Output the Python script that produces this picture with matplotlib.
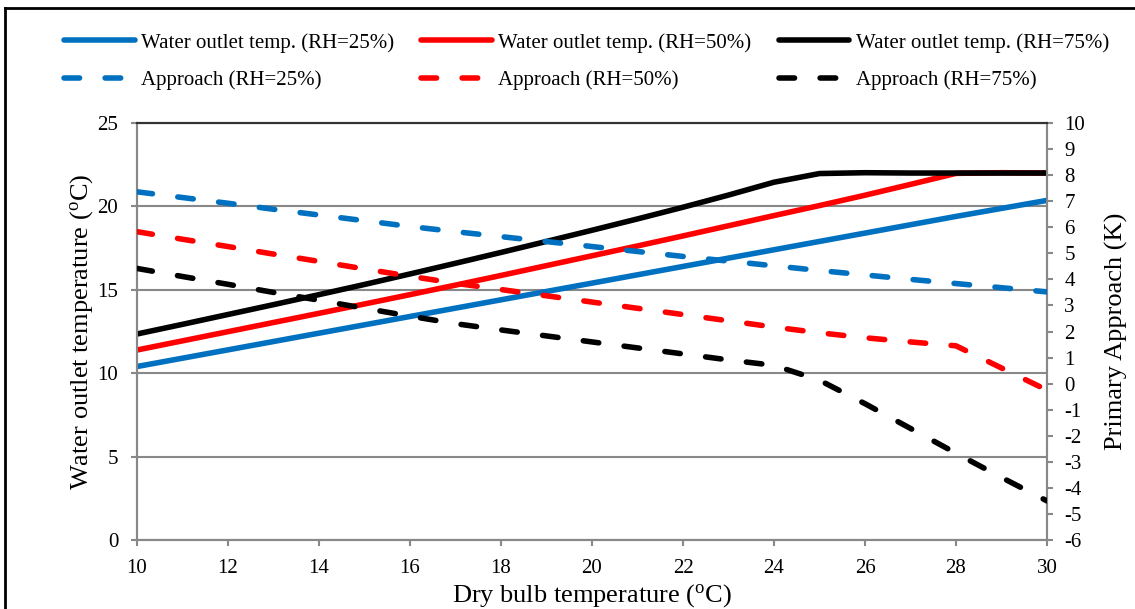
import matplotlib
matplotlib.use("Agg")
import matplotlib.pyplot as plt
from matplotlib.lines import Line2D

plt.rcParams['font.family'] = ['Liberation Serif', 'DejaVu Serif']
plt.rcParams['mathtext.fontset'] = 'custom'
plt.rcParams['mathtext.rm'] = 'Liberation Serif'
plt.rcParams['mathtext.it'] = 'Liberation Serif:italic'
plt.rcParams['axes.unicode_minus'] = False

# ---------------- data ----------------
dry_bulb = [10, 11, 12, 13, 14, 15, 16, 17, 18, 19, 20, 21, 22, 23, 24, 25, 26, 27, 28, 29, 30]

outlet_rh25 = [10.40, 10.90, 11.40, 11.90, 12.40, 12.90, 13.40, 13.90, 14.40, 14.90, 15.40,
               15.90, 16.40, 16.90, 17.40, 17.90, 18.40, 18.90, 19.40, 19.88, 20.36]
outlet_rh50 = [11.39, 11.94, 12.49, 13.04, 13.59, 14.15, 14.71, 15.28, 15.86, 16.45, 17.04,
               17.63, 18.23, 18.84, 19.45, 20.05, 20.67, 21.32, 21.98, 22.02, 22.00]
outlet_rh75 = [12.35, 12.93, 13.52, 14.11, 14.71, 15.32, 15.95, 16.59, 17.24, 17.90, 18.57,
               19.25, 19.95, 20.68, 21.45, 21.97, 22.02, 22.00, 22.00, 22.00, 22.00]

approach_rh25 = [7.36, 7.14, 6.92, 6.69, 6.47, 6.25, 6.03, 5.83, 5.64, 5.45, 5.26,
                 5.07, 4.88, 4.70, 4.52, 4.34, 4.17, 4.00, 3.84, 3.68, 3.52]
approach_rh50 = [5.83, 5.54, 5.26, 4.97, 4.69, 4.40, 4.12, 3.85, 3.61, 3.37, 3.13,
                 2.89, 2.65, 2.41, 2.17, 1.95, 1.76, 1.60, 1.45, 0.60, -0.25]
approach_rh75 = [4.42, 4.11, 3.81, 3.50, 3.20, 2.89, 2.59, 2.30, 2.06, 1.83, 1.60,
                 1.37, 1.14, 0.91, 0.70, 0.13, -0.77, -1.72, -2.67, -3.60, -4.50]

outlet_labels = ['Water outlet temp. (RH=25%)', 'Water outlet temp. (RH=50%)',
                 'Water outlet temp. (RH=75%)']
approach_labels = ['Approach (RH=25%)', 'Approach (RH=50%)', 'Approach (RH=75%)']
colors = ['#0070C0', '#FF0000', '#000000']

x_ticks = [10, 12, 14, 16, 18, 20, 22, 24, 26, 28, 30]
left_ticks = [0, 5, 10, 15, 20, 25]
right_ticks = list(range(-6, 11))

# ---------------- figure ----------------
W, H = 1135, 609
fig = plt.figure(figsize=(W / 100, H / 100), dpi=100)
ax = fig.add_axes([137 / W, 1 - 540 / H, (1047 - 137) / W, (540 - 123) / H])
ax2 = ax.twinx()

lw = 4.0
grid_c = '#888888'

for ys, c, lab in zip([outlet_rh25, outlet_rh50, outlet_rh75], colors, outlet_labels):
    ax.plot(dry_bulb, ys, color=c, lw=lw, label=lab, solid_capstyle='round',
            solid_joinstyle='round', zorder=3)

for ys, c, lab in zip([approach_rh25, approach_rh50, approach_rh75], colors, approach_labels):
    ax2.plot(dry_bulb, ys, color=c, lw=lw, label=lab, dashes=(2.8, 4.6),
             dash_capstyle='round', dash_joinstyle='round', zorder=3)

ax.set_xlim(10, 30)
ax.set_ylim(0, 25)
ax2.set_ylim(-6, 10)
ax.set_xticks(x_ticks)
ax.set_yticks(left_ticks)
ax2.set_yticks(right_ticks)

ax.yaxis.grid(True, color=grid_c, lw=1.5)
ax.set_axisbelow(True)

for a in (ax, ax2):
    for s in ('left', 'right', 'bottom'):
        a.spines[s].set_color(grid_c)
        a.spines[s].set_linewidth(1.5)
    a.spines['top'].set_color('#333333')
    a.spines['top'].set_linewidth(1.5)
    a.patch.set_visible(False)

ax.tick_params(axis='both', direction='out', length=4.5, width=1.5, color=grid_c,
               labelsize=15, labelcolor='black')
ax.tick_params(axis='y', pad=9)
ax.tick_params(axis='x', pad=9)
ax2.tick_params(axis='y', direction='out', length=4.5, width=1.5, color=grid_c,
                labelsize=15, labelcolor='black', pad=8)

ax.set_xlabel('Dry bulb temperature ($^{\\mathrm{o}}$C)', fontsize=19, labelpad=3)
ax.set_ylabel('Water outlet temperature ($^{\\mathrm{o}}$C)', fontsize=19, labelpad=2)
ax2.set_ylabel('Primary Approach (K)', fontsize=19, labelpad=14)

# legend (column-wise fill: outlet on row 1, approach on row 2)
h1, l1 = ax.get_legend_handles_labels()
h2, l2 = ax2.get_legend_handles_labels()
handles, labels = [], []
for i in range(3):
    handles += [h1[i], h2[i]]
    labels += [l1[i], l2[i]]
fig.legend(handles, labels, ncol=3, loc='upper left',
           bbox_to_anchor=(64 / W, 1 - 33 / H), frameon=False, fontsize=15,
           handlelength=3.4, handletextpad=0.3, columnspacing=1.3,
           labelspacing=0.85, borderpad=0, borderaxespad=0)

# outer frame (left and top edges visible)
fig.add_artist(Line2D([5 / W, 5 / W], [0, 1 - 8 / H], transform=fig.transFigure,
                      color='black', lw=2))
fig.add_artist(Line2D([5 / W, 1], [1 - 8 / H, 1 - 8 / H], transform=fig.transFigure,
                      color='black', lw=2))

fig.savefig('out.png', dpi=100)
